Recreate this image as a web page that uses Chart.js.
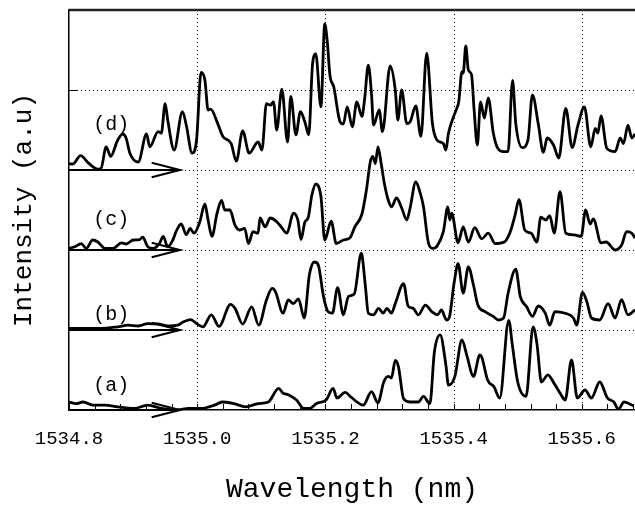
<!DOCTYPE html>
<html>
<head>
<meta charset="utf-8">
<script src="https://cdn.jsdelivr.net/npm/chart.js@4/dist/chart.umd.min.js"></script>
<style>
  html, body { margin: 0; padding: 0; background: #fff; }
  #wrap { width: 635px; height: 506px; }
</style>
</head>
<body>
<div id="wrap"><canvas id="c" width="635" height="506"></canvas></div>
<script>
// spectra, wavelength in nm, intensity in a.u. above each trace's own baseline
const waveA = [1534.800, 1534.811, 1534.822, 1534.837, 1534.856, 1534.876, 1534.902, 1534.923, 1534.944, 1534.970,
  1534.986, 1535.006, 1535.027, 1535.039, 1535.057, 1535.076, 1535.095, 1535.111, 1535.127, 1535.134,
  1535.142, 1535.155, 1535.166, 1535.176, 1535.186, 1535.201, 1535.212, 1535.218, 1535.231, 1535.240,
  1535.259, 1535.272, 1535.282, 1535.291, 1535.298, 1535.303, 1535.309, 1535.314, 1535.322, 1535.332,
  1535.345, 1535.353, 1535.363, 1535.370, 1535.379, 1535.388, 1535.392, 1535.402, 1535.413, 1535.421,
  1535.431, 1535.441, 1535.444, 1535.453, 1535.463, 1535.472, 1535.486, 1535.492, 1535.500, 1535.513,
  1535.524, 1535.530, 1535.537, 1535.547, 1535.557, 1535.567, 1535.574, 1535.584, 1535.593, 1535.605,
  1535.615, 1535.628, 1535.640, 1535.650, 1535.657, 1535.666, 1535.681];
const intA = [0.10, 0.08, 0.10, 0.06, 0.06, 0.04, 0.02, 0.06, 0.02, 0.00,
  0.02, 0.02, 0.06, 0.10, 0.08, 0.04, 0.08, 0.10, 0.27, 0.21,
  0.19, 0.125, 0.02, 0.02, 0.08, 0.125, 0.27, 0.15, 0.22, 0.16,
  0.06, 0.23, 0.09, 0.35, 0.42, 0.40, 0.62, 0.54, 0.14, 0.10,
  0.10, 0.17, 0.08, 0.725, 0.94, 0.56, 0.31, 0.42, 0.875, 0.67,
  0.42, 0.69, 0.66, 0.375, 0.29, 0.15, 1.12, 0.79, 0.35, 0.17,
  1.04, 0.83, 0.35, 0.44, 0.33, 0.20, 0.125, 0.625, 0.15, 0.25,
  0.15, 0.35, 0.15, 0.10, 0.01, 0.10, 0.05];

const waveB = [1534.800, 1534.830, 1534.850, 1534.876, 1534.892, 1534.908, 1534.923, 1534.939, 1534.954, 1534.970,
  1534.978, 1534.990, 1534.999, 1535.009, 1535.022, 1535.034, 1535.052, 1535.059, 1535.071, 1535.085,
  1535.096, 1535.108, 1535.117, 1535.122, 1535.134, 1535.142, 1535.150, 1535.158, 1535.167, 1535.175,
  1535.183, 1535.189, 1535.197, 1535.204, 1535.211, 1535.219, 1535.228, 1535.236, 1535.245, 1535.256,
  1535.262, 1535.267, 1535.275, 1535.283, 1535.290, 1535.296, 1535.303, 1535.309, 1535.322, 1535.329,
  1535.337, 1535.345, 1535.356, 1535.366, 1535.375, 1535.381, 1535.389, 1535.393, 1535.401, 1535.407,
  1535.415, 1535.423, 1535.431, 1535.438, 1535.449, 1535.462, 1535.470, 1535.478, 1535.485, 1535.497,
  1535.504, 1535.514, 1535.523, 1535.532, 1535.543, 1535.550, 1535.558, 1535.574, 1535.587, 1535.592,
  1535.601, 1535.608, 1535.615, 1535.628, 1535.641, 1535.652, 1535.662, 1535.672, 1535.683];
const intB = [0.02, 0.02, 0.02, 0.04, 0.06, 0.05, 0.08, 0.075, 0.05, 0.06,
  0.10, 0.13, 0.08, 0.04, 0.19, 0.045, 0.32, 0.27, 0.075, 0.29,
  0.06, 0.375, 0.52, 0.48, 0.21, 0.375, 0.33, 0.39, 0.15, 0.69,
  0.85, 0.81, 0.42, 0.23, 0.21, 0.53, 0.19, 0.42, 0.45, 0.96,
  0.58, 0.21, 0.19, 0.27, 0.21, 0.27, 0.21, 0.33, 0.58, 0.30,
  0.27, 0.19, 0.31, 0.23, 0.19, 0.25, 0.125, 0.15, 0.60, 0.83,
  0.46, 0.79, 0.56, 0.31, 0.23, 0.17, 0.125, 0.15, 0.46, 0.76,
  0.42, 0.29, 0.17, 0.30, 0.21, 0.06, 0.23, 0.21, 0.15, 0.06,
  0.47, 0.35, 0.15, 0.125, 0.33, 0.15, 0.38, 0.19, 0.25];

const waveC = [1534.800, 1534.809, 1534.819, 1534.827, 1534.837, 1534.845, 1534.856, 1534.869, 1534.882, 1534.889,
  1534.900, 1534.910, 1534.915, 1534.923, 1534.931, 1534.941, 1534.947, 1534.954, 1534.962, 1534.967,
  1534.975, 1534.983, 1534.989, 1534.995, 1535.004, 1535.012, 1535.017, 1535.023, 1535.031, 1535.038,
  1535.043, 1535.051, 1535.059, 1535.066, 1535.074, 1535.080, 1535.087, 1535.095, 1535.098, 1535.106,
  1535.114, 1535.121, 1535.129, 1535.140, 1535.150, 1535.157, 1535.162, 1535.168, 1535.173, 1535.179,
  1535.185, 1535.193, 1535.199, 1535.209, 1535.217, 1535.228, 1535.238, 1535.246, 1535.257, 1535.264,
  1535.270, 1535.274, 1535.278, 1535.282, 1535.287, 1535.292, 1535.298, 1535.303, 1535.311, 1535.319,
  1535.327, 1535.332, 1535.341, 1535.348, 1535.353, 1535.361, 1535.368, 1535.375, 1535.384, 1535.391,
  1535.394, 1535.397, 1535.407, 1535.415, 1535.423, 1535.433, 1535.444, 1535.454, 1535.465, 1535.479,
  1535.488, 1535.496, 1535.502, 1535.511, 1535.521, 1535.530, 1535.536, 1535.544, 1535.550, 1535.557,
  1535.566, 1535.575, 1535.588, 1535.599, 1535.606, 1535.613, 1535.618, 1535.630, 1535.638, 1535.652,
  1535.662, 1535.670, 1535.678, 1535.683];
const intC = [0.02, 0.04, 0.08, 0.02, 0.125, 0.10, 0.02, 0.02, 0.09, 0.075,
  0.125, 0.13, 0.16, 0.04, 0.02, 0.08, 0.17, 0.04, 0.125, 0.23,
  0.325, 0.19, 0.27, 0.21, 0.35, 0.575, 0.375, 0.17, 0.46, 0.62,
  0.50, 0.50, 0.31, 0.25, 0.27, 0.08, 0.23, 0.21, 0.40, 0.29,
  0.40, 0.375, 0.31, 0.21, 0.46, 0.375, 0.13, 0.35, 0.40, 0.69,
  0.825, 0.67, 0.125, 0.36, 0.08, 0.125, 0.15, 0.29, 0.45, 0.75,
  1.10, 1.17, 1.08, 1.29, 1.08, 0.83, 0.625, 0.54, 0.65, 0.525,
  0.375, 0.52, 0.85, 0.71, 0.54, 0.08, 0.02, 0.06, 0.23, 0.54,
  0.375, 0.46, 0.09, 0.29, 0.10, 0.28, 0.14, 0.21, 0.08, 0.10,
  0.22, 0.44, 0.63, 0.25, 0.21, 0.10, 0.41, 0.375, 0.43, 0.21,
  0.73, 0.21, 0.19, 0.17, 0.50, 0.325, 0.39, 0.09, 0.10, 0.00,
  0.06, 0.23, 0.21, 0.15];

const waveD = [1534.800, 1534.806, 1534.818, 1534.830, 1534.845, 1534.850, 1534.858, 1534.865, 1534.876, 1534.884,
  1534.889, 1534.895, 1534.908, 1534.921, 1534.926, 1534.939, 1534.944, 1534.950, 1534.954, 1534.964,
  1534.977, 1534.983, 1534.992, 1534.999, 1535.006, 1535.012, 1535.017, 1535.021, 1535.032, 1535.040,
  1535.053, 1535.061, 1535.071, 1535.081, 1535.095, 1535.101, 1535.108, 1535.114, 1535.119, 1535.124,
  1535.132, 1535.141, 1535.146, 1535.154, 1535.161, 1535.168, 1535.174, 1535.180, 1535.185, 1535.193,
  1535.199, 1535.203, 1535.207, 1535.213, 1535.223, 1535.228, 1535.234, 1535.242, 1535.249, 1535.257,
  1535.261, 1535.267, 1535.272, 1535.275, 1535.284, 1535.289, 1535.301, 1535.309, 1535.313, 1535.319,
  1535.327, 1535.332, 1535.341, 1535.349, 1535.358, 1535.367, 1535.374, 1535.384, 1535.388, 1535.392,
  1535.400, 1535.405, 1535.408, 1535.413, 1535.415, 1535.419, 1535.423, 1535.428, 1535.432, 1535.437,
  1535.442, 1535.448, 1535.454, 1535.462, 1535.469, 1535.478, 1535.485, 1535.492, 1535.497, 1535.507,
  1535.516, 1535.523, 1535.532, 1535.540, 1535.546, 1535.556, 1535.564, 1535.575, 1535.585, 1535.594,
  1535.604, 1535.614, 1535.621, 1535.625, 1535.630, 1535.639, 1535.652, 1535.660, 1535.665, 1535.672,
  1535.678, 1535.683];
const intD = [0.08, 0.075, 0.18, 0.09, 0.01, 0.02, 0.29, 0.17, 0.375, 0.45,
  0.40, 0.21, 0.10, 0.45, 0.29, 0.48, 0.46, 0.83, 0.625, 0.25,
  0.73, 0.56, 0.21, 0.375, 1.22, 1.125, 0.75, 0.76, 0.58, 0.42,
  0.33, 0.11, 0.49, 0.21, 0.35, 0.25, 0.83, 0.81, 0.85, 0.50,
  1.01, 0.35, 0.92, 0.44, 0.73, 0.60, 0.44, 1.33, 1.45, 0.79,
  1.825, 1.60, 1.19, 1.04, 0.60, 0.575, 0.79, 0.54, 0.85, 0.67,
  0.875, 1.31, 0.94, 0.56, 0.75, 0.48, 1.30, 1.00, 0.625, 1.00,
  0.58, 0.60, 0.80, 0.42, 1.46, 0.58, 0.375, 0.33, 0.25, 0.46,
  0.67, 0.77, 0.85, 1.23, 1.21, 1.55, 1.25, 1.19, 0.75, 0.31,
  0.85, 0.65, 0.90, 0.46, 0.27, 0.23, 0.23, 1.12, 0.58, 0.28,
  0.375, 0.94, 0.58, 0.22, 0.40, 0.31, 0.15, 0.77, 0.28, 0.56,
  0.79, 0.29, 0.52, 0.46, 0.675, 0.27, 0.23, 0.40, 0.33, 0.56,
  0.40, 0.45];

const traceNames = ['(a)', '(b)', '(c)', '(d)'];
const traceOffsets = [0, 1, 2, 3];   // each spectrum is shifted up by one unit
const labelLift = [0.30, 0.19, 0.375, 0.56];
const labelWave = 1534.866;
const arrowTip = 1534.973;
const arrowBack = 1534.929;
const arrowHalf = 0.09;

const xMin = 1534.8, xMax = 1535.683;
const tickStep = 0.04;
const yGrid = [1, 2, 3, 4];

// minor ticks every 0.04 nm, labels every 0.2 nm
const tickValues = [];
for (let k = 0; xMin + k * tickStep <= xMax + 1e-9; k++) {
  tickValues.push(Math.round((xMin + k * tickStep) * 100) / 100);
}
const isMajor = v => Math.abs(Math.round(v * 5) / 5 - v) < 1e-6;

const font = 'Liberation Mono';

function toPoints(w, v, off) {
  const n = Math.min(w.length, v.length);
  const out = [];
  for (let i = 0; i < n; i++) out.push({ x: w[i], y: v[i] + off });
  return out;
}

const series = [[waveA, intA], [waveB, intB], [waveC, intC], [waveD, intD]];

function line(ctx, x1, y1, x2, y2) {
  ctx.beginPath(); ctx.moveTo(x1, y1); ctx.lineTo(x2, y2); ctx.stroke();
}

const frame = {
  id: 'frame',
  beforeDatasetsDraw(chart) {
    const { ctx, chartArea: a, scales: { x, y } } = chart;
    ctx.save();
    ctx.strokeStyle = '#000';
    ctx.lineWidth = 1;
    ctx.setLineDash([1, 3]);
    tickValues.filter(v => isMajor(v) && v > xMin).forEach(v => {
      const px = Math.round(x.getPixelForValue(v)) + 0.5;
      line(ctx, px, a.top, px, a.bottom);
    });
    yGrid.forEach(v => {
      const py = Math.round(y.getPixelForValue(v)) + 0.5;
      line(ctx, a.left, py, a.right, py);
    });
    ctx.setLineDash([]);
    // inward tick marks
    tickValues.forEach(v => {
      const px = Math.round(x.getPixelForValue(v)) + 0.5;
      line(ctx, px, a.bottom, px, a.bottom - 6);
    });
    yGrid.forEach(v => {
      const py = Math.round(y.getPixelForValue(v)) + 0.5;
      line(ctx, a.left, py, a.left + 9, py);
    });
    // top frame line
    ctx.strokeStyle = '#222';
    ctx.lineWidth = 2.5;
    line(ctx, a.left, a.top, a.right, a.top);
    ctx.restore();
  },
  afterDatasetsDraw(chart) {
    const { ctx, scales: { x, y } } = chart;
    ctx.save();
    ctx.strokeStyle = '#000';
    ctx.lineWidth = 2;
    traceOffsets.forEach((off, i) => {
      const x0 = x.getPixelForValue(xMin);
      const xt = x.getPixelForValue(arrowTip);
      const xb = x.getPixelForValue(arrowBack);
      const yb = y.getPixelForValue(off);
      line(ctx, x0, yb, xt, yb);
      ctx.beginPath();
      ctx.moveTo(xb, y.getPixelForValue(off + arrowHalf));
      ctx.lineTo(xt, yb);
      ctx.lineTo(xb, y.getPixelForValue(off - arrowHalf));
      ctx.stroke();

      ctx.fillStyle = '#000';
      ctx.font = '20px "' + font + '"';
      ctx.textAlign = 'center';
      ctx.textBaseline = 'middle';
      ctx.fillText(traceNames[i], x.getPixelForValue(labelWave), y.getPixelForValue(off + labelLift[i]));
    });
    ctx.restore();
  }
};

new Chart(document.getElementById('c'), {
  type: 'line',
  data: {
    datasets: series.map((s, i) => ({
      label: traceNames[i],
      data: toPoints(s[0], s[1], traceOffsets[i]),
      borderColor: '#000',
      borderWidth: 2.8,
      pointRadius: 0,
      cubicInterpolationMode: 'monotone',
      borderJoinStyle: 'round',
      fill: false
    }))
  },
  options: {
    responsive: false,
    animation: false,
    devicePixelRatio: 1,
    layout: { padding: { top: 10, right: 0, left: 0, bottom: 0 } },
    plugins: { legend: { display: false }, tooltip: { enabled: false } },
    scales: {
      x: {
        type: 'linear',
        min: xMin,
        max: xMax,
        afterBuildTicks: s => { s.ticks = tickValues.map(v => ({ value: v })); },
        afterFit: s => { s.height = 96; s.paddingLeft = 0; s.paddingRight = 0; },
        grid: { display: false, drawTicks: false },
        border: { display: true, color: '#000', width: 1.5 },
        ticks: {
          autoSkip: false,
          maxRotation: 0,
          padding: 18,
          color: '#000',
          font: { family: font, size: 19 },
          callback: v => isMajor(v) ? v.toFixed(1) : ''
        },
        title: {
          display: true,
          text: 'Wavelength (nm)',
          color: '#000',
          font: { family: font, size: 28 },
          padding: { top: 0, bottom: 0 }
        }
      },
      y: {
        min: 0,
        max: 5,
        afterFit: s => { s.width = 69; },
        grid: { display: false, drawTicks: false },
        border: { display: true, color: '#000', width: 1.5 },
        ticks: { display: false },
        title: {
          display: true,
          text: 'Intensity (a.u)',
          color: '#000',
          font: { family: font, size: 26 },
          padding: { top: 9, bottom: 0 }
        }
      }
    }
  },
  plugins: [frame]
});
</script>
</body>
</html>
